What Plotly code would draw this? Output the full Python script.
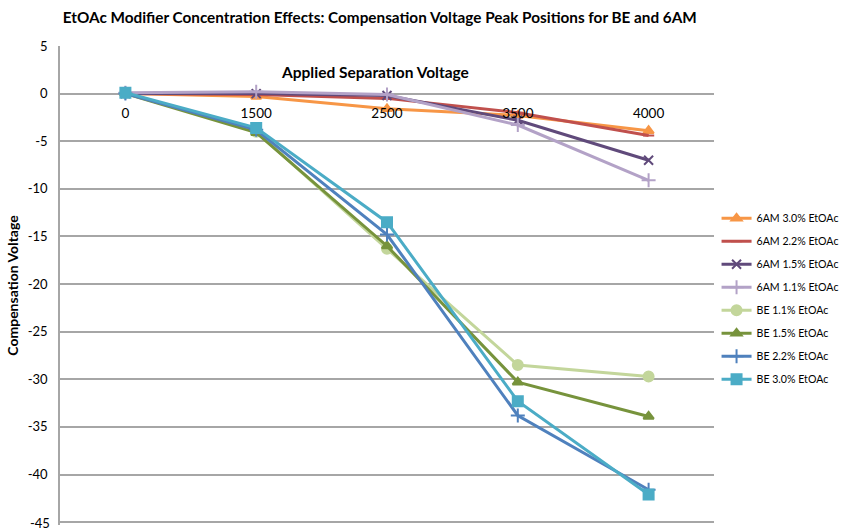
import plotly.graph_objects as go

categories = ["0", "1500", "2500", "3500", "4000"]

series_names = [
    "6AM 3.0% EtOAc", "6AM 2.2% EtOAc", "6AM 1.5% EtOAc", "6AM 1.1% EtOAc",
    "BE 1.1% EtOAc", "BE 1.5% EtOAc", "BE 2.2% EtOAc", "BE 3.0% EtOAc",
]
am6_30 = [0.0, -0.3, -1.6, -2.3, -3.9]
am6_22 = [0.0, -0.1, -0.5, -2.0, -4.4]
am6_15 = [0.0, 0.0, -0.2, -2.8, -7.0]
am6_11 = [0.1, 0.2, -0.1, -3.3, -9.1]
be_11 = [0.1, -4.0, -16.3, -28.5, -29.7]
be_15 = [0.0, -4.1, -16.0, -30.3, -33.9]
be_22 = [0.0, -3.8, -14.8, -33.8, -41.6]
be_30 = [0.1, -3.6, -13.5, -32.3, -42.1]
y_ticks = [5, 0, -5, -10, -15, -20, -25, -30, -35, -40, -45]
y_tick_labels = ["5", "0", "-5", "-10", "-15", "-20", "-25", "-30", "-35", "-40", "-45"]

values = [am6_30, am6_22, am6_15, am6_11, be_11, be_15, be_22, be_30]
colors = ["#F79646", "#C0504D", "#604A7B", "#B3A2C7", "#C3D69B", "#77933C", "#4F81BD", "#4BACC6"]
symbols = ["triangle-up", "line-ew-open", "x-thin-open", "cross-thin-open", "circle", "triangle-up", "cross-thin-open", "square"]
sizes = [9, 8, 9, 10, 10, 9, 10, 10]

FONT = "Lato, 'Open Sans', sans-serif"
GRID = "#A6A6A6"

fig = go.Figure()
for i, (name, vals) in enumerate(zip(series_names, values)):
    fig.add_trace(go.Scatter(
        x=categories, y=vals, name=name, mode="lines+markers",
        line=dict(color=colors[i], width=3),
        marker=dict(symbol=symbols[i], size=sizes[i], color=colors[i],
                    line=dict(color=colors[i], width=2)),
        legendgroup=name,
    ))

fig.update_layout(
    width=843, height=528,
    margin=dict(l=60, r=129, t=46, b=3),
    paper_bgcolor="white", plot_bgcolor="white",
    font=dict(family=FONT, size=12, color="black"),
    title=dict(text="<b>EtOAc Modifier Concentration Effects: Compensation Voltage Peak Positions for BE and 6AM</b>",
               xref="paper", x=0.489, xanchor="center", y=0.966, yanchor="middle",
               font=dict(family=FONT, size=15.3, color="black")),
    showlegend=True,
    legend=dict(xref="container", yref="container", x=0.850, xanchor="left",
                y=0.614, yanchor="top",
                font=dict(family=FONT, size=10.6, color="black"),
                tracegroupgap=4, itemwidth=30, bgcolor="rgba(0,0,0,0)"),
    xaxis=dict(type="category", range=[-0.5, 4.5], showgrid=False, zeroline=False,
               showline=False, anchor="free", position=0.9, side="bottom",
               tickfont=dict(family=FONT, size=13.5, color="black"),
               ticks="outside", ticklen=7, tickcolor="rgba(0,0,0,0)", automargin=False),
    yaxis=dict(range=[-45.3, 5], tickvals=y_ticks, ticktext=y_tick_labels, showgrid=True,
               gridcolor=GRID, gridwidth=1.5, zeroline=False, showline=True,
               linecolor=GRID, linewidth=1.5, ticks="", ticklabelstandoff=8,
               tickfont=dict(family=FONT, size=13, color="black"), automargin=False,
               title=dict(text="<b>Compensation Voltage</b>", standoff=6,
                          font=dict(family=FONT, size=14, color="black"))),
    annotations=[dict(text="<b>Applied Separation Voltage</b>", xref="paper", yref="paper",
                      x=0.481, y=0.946, xanchor="center", yanchor="middle", showarrow=False,
                      font=dict(family=FONT, size=15.5, color="black")),
                 # bottom tick label (Plotly drops the label at the very edge)
                 dict(text=y_tick_labels[-1], xref="paper", x=0, xanchor="right", xshift=-8,
                      yref="y", y=y_ticks[-1], yanchor="middle", yshift=-1, showarrow=False,
                      font=dict(family=FONT, size=13, color="black"))],
    # bottom gridline at the lowest tick value
    shapes=[dict(type="line", xref="paper", x0=0, x1=1, yref="y",
                 y0=y_ticks[-1], y1=y_ticks[-1], line=dict(color=GRID, width=1.5), layer="below")],
)

fig.write_html("out.html", config={"displayModeBar": False},
               post_script="document.body.style.margin='0';")
